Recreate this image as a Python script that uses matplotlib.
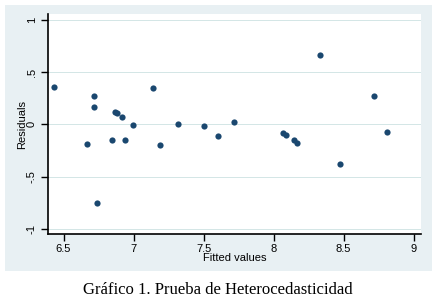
import numpy as np
import matplotlib.pyplot as plt

# fitted values and residuals
fitted = [6.43, 6.716, 6.72, 6.67, 6.74, 6.845, 6.87, 6.885, 6.92, 6.94,
          6.998, 7.14, 7.19, 7.32, 7.50, 7.60, 7.72,
          8.07, 8.09, 8.145, 8.17, 8.33, 8.476, 8.714, 8.81]
residuals = [0.36, 0.271, 0.169, -0.185, -0.75, -0.153, 0.121, 0.105, 0.07, -0.146,
             -0.003, 0.35, -0.20, 0.003, -0.013, -0.108, 0.022,
             -0.083, -0.099, -0.153, -0.179, 0.66, -0.383, 0.274, -0.073]

xticks = [6.5, 7, 7.5, 8, 8.5, 9]
xticklabels = ["6.5", "7", "7.5", "8", "8.5", "9"]
yticks = [-1, -0.5, 0, 0.5, 1]
yticklabels = ["-1", "-.5", "0", ".5", "1"]

plt.rcParams['font.family'] = ['Liberation Sans', 'DejaVu Sans']

W, H = 436, 300
fig = plt.figure(figsize=(W / 100, H / 100), dpi=100)
fig.patch.set_facecolor("white")

# Stata-like graph region drawn behind the plot
bg = fig.add_axes([5 / W, 1 - 271 / H, 427 / W, 266 / H], zorder=-5)
bg.set_facecolor("#e8f0f3")
bg.set_xticks([])
bg.set_yticks([])
for s in bg.spines.values():
    s.set_visible(False)

ax = fig.add_axes([48 / W, 1 - 234.3 / H, 373 / W, 220.3 / H])
ax.set_facecolor("white")
ax.scatter(fitted, residuals, s=20, color="#1a476f", zorder=3, linewidths=0)

ax.set_xlim(6.389, 9.053)
ax.set_ylim(-1.053, 1.055)

ax.set_xticks(xticks)
ax.set_xticklabels(xticklabels)
ax.set_yticks(yticks)
ax.set_yticklabels(yticklabels, rotation=90, va="center")

for v in yticks:
    ax.axhline(v, color="#d3e6e6", linewidth=0.7, zorder=1)

for s in ["top", "right"]:
    ax.spines[s].set_visible(False)
for s in ["left", "bottom"]:
    ax.spines[s].set_linewidth(1.2)
    ax.spines[s].set_color("black")

ax.tick_params(axis="both", length=5, width=1, labelsize=8, colors="black", pad=2)
ax.tick_params(axis="y", pad=3)

ax.set_xlabel("Fitted values", fontsize=8, labelpad=-1)
ax.set_ylabel("Residuals", fontsize=8, labelpad=0)

fig.text(218 / W, 1 - 290 / H, "Gráfico 1. Prueba de Heterocedasticidad",
         ha="center", va="center", fontsize=12, family="Liberation Serif")

fig.savefig("out.png", dpi=100)
